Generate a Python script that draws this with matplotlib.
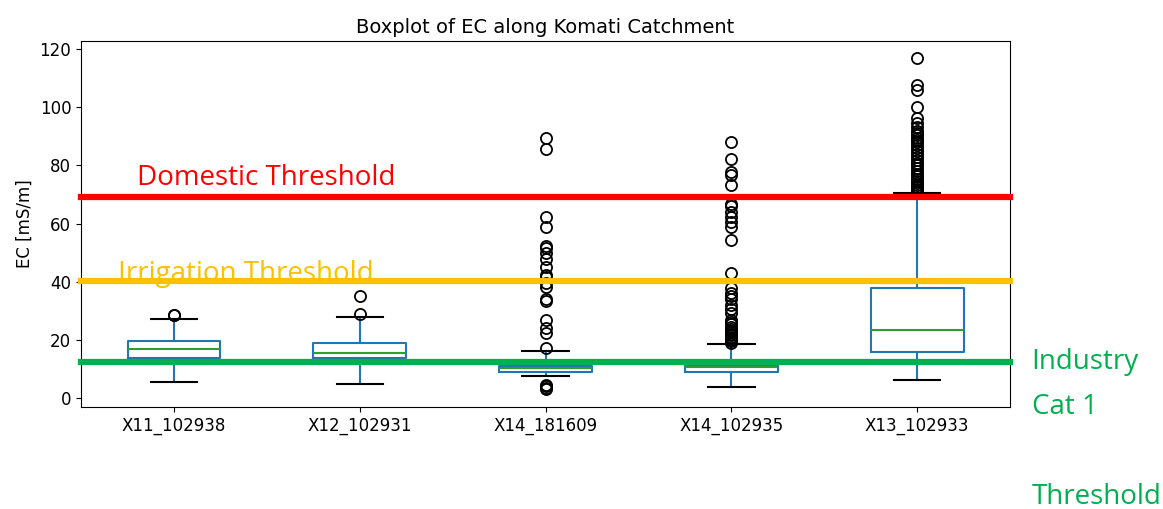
import matplotlib
matplotlib.use('Agg')
import matplotlib.pyplot as plt

stations = ['X11_102938', 'X12_102931', 'X14_181609', 'X14_102935', 'X13_102933']
q1 = [13.6, 13.6, 9.0, 9.0, 15.7]
med = [16.7, 15.4, 10.4, 10.6, 23.5]
q3 = [19.6, 18.8, 11.0, 11.3, 37.7]
whislo = [5.6, 4.8, 7.7, 3.9, 6.2]
whishi = [27.2, 27.7, 16.3, 18.6, 70.5]
fliers = [
    [28.4, 28.7],
    [28.9, 35.2],
    [3.2, 3.5, 4.0, 4.5, 17.1, 22.2, 24.0, 26.8, 33.5, 34.2, 38.3, 39.4, 41.7, 42.3,
     45.2, 47.7, 50.0, 51.5, 52.3, 58.7, 62.1, 85.5, 89.3],
    [19.0, 19.5, 20.0, 20.5, 21.0, 21.5, 22.0, 22.6, 23.2, 23.8, 24.5, 25.3, 26.0,
     26.8, 29.1, 30.5, 32.0, 34.0, 35.0, 36.0, 37.7, 43.1, 54.3, 58.9, 60.6, 62.4,
     64.1, 66.0, 66.9, 73.2, 76.7, 77.8, 82.1, 88.1],
    [71.0, 71.5, 72.0, 72.6, 73.2, 74.0, 74.8, 75.5, 76.3, 77.0, 78.0, 79.0, 80.0,
     81.0, 82.0, 83.0, 84.0, 85.0, 86.0, 87.0, 88.0, 88.8, 89.5, 90.3, 91.0, 92.0,
     93.3, 94.5, 96.2, 100.0, 106.1, 107.6, 117.1],
]

thresholds = [69.1, 40.2, 12.4]
thr_colors = ['#ff0000', '#ffc000', '#00b050']

fig = plt.figure(figsize=(11.63, 5.09), dpi=100)
ax = fig.add_axes([0.0697, 0.2004, 0.7987, 0.719])

stats = []
for i in range(len(stations)):
    stats.append({'label': stations[i], 'q1': q1[i], 'med': med[i], 'q3': q3[i],
                  'whislo': whislo[i], 'whishi': whishi[i], 'fliers': fliers[i]})

ax.bxp(stats, widths=0.5,
       boxprops=dict(color='#1f77b4', linewidth=1.5),
       whiskerprops=dict(color='#1f77b4', linewidth=1.5),
       capprops=dict(color='black', linewidth=1.5),
       medianprops=dict(color='#2ca02c', linewidth=1.5),
       flierprops=dict(marker='o', markerfacecolor='none', markeredgecolor='black',
                       markersize=8, markeredgewidth=1.3))

ax.set_ylim(-3.1, 122.8)
ax.set_xlim(0.5, 5.5)
ax.set_yticks([0, 20, 40, 60, 80, 100, 120])
ax.tick_params(labelsize=12)
ax.set_ylabel('EC [mS/m]', fontsize=12)
ax.set_title('Boxplot of EC along Komati Catchment', fontsize=14)

for t, c in zip(thresholds, thr_colors):
    ax.axhline(t, color=c, linewidth=4.5, zorder=5, clip_on=False)

font = 'Open Sans'
ax.text(0.8, 73.2, 'Domestic Threshold', color='#ff0000', fontsize=20, family=font,
        va='baseline', ha='left', zorder=4)
ax.text(0.7, 40.4, 'Irrigation Threshold', color='#ffc000', fontsize=20, family=font,
        va='baseline', ha='left', zorder=4)
fig.text(0.887, 0.289, 'Industry', color='#00b050', fontsize=20, family=font, va='center')
fig.text(0.887, 0.2, 'Cat 1', color='#00b050', fontsize=20, family=font, va='center')
fig.text(0.887, 0.024, 'Threshold', color='#00b050', fontsize=20, family=font, va='center')

fig.savefig('out.png', dpi=100)
